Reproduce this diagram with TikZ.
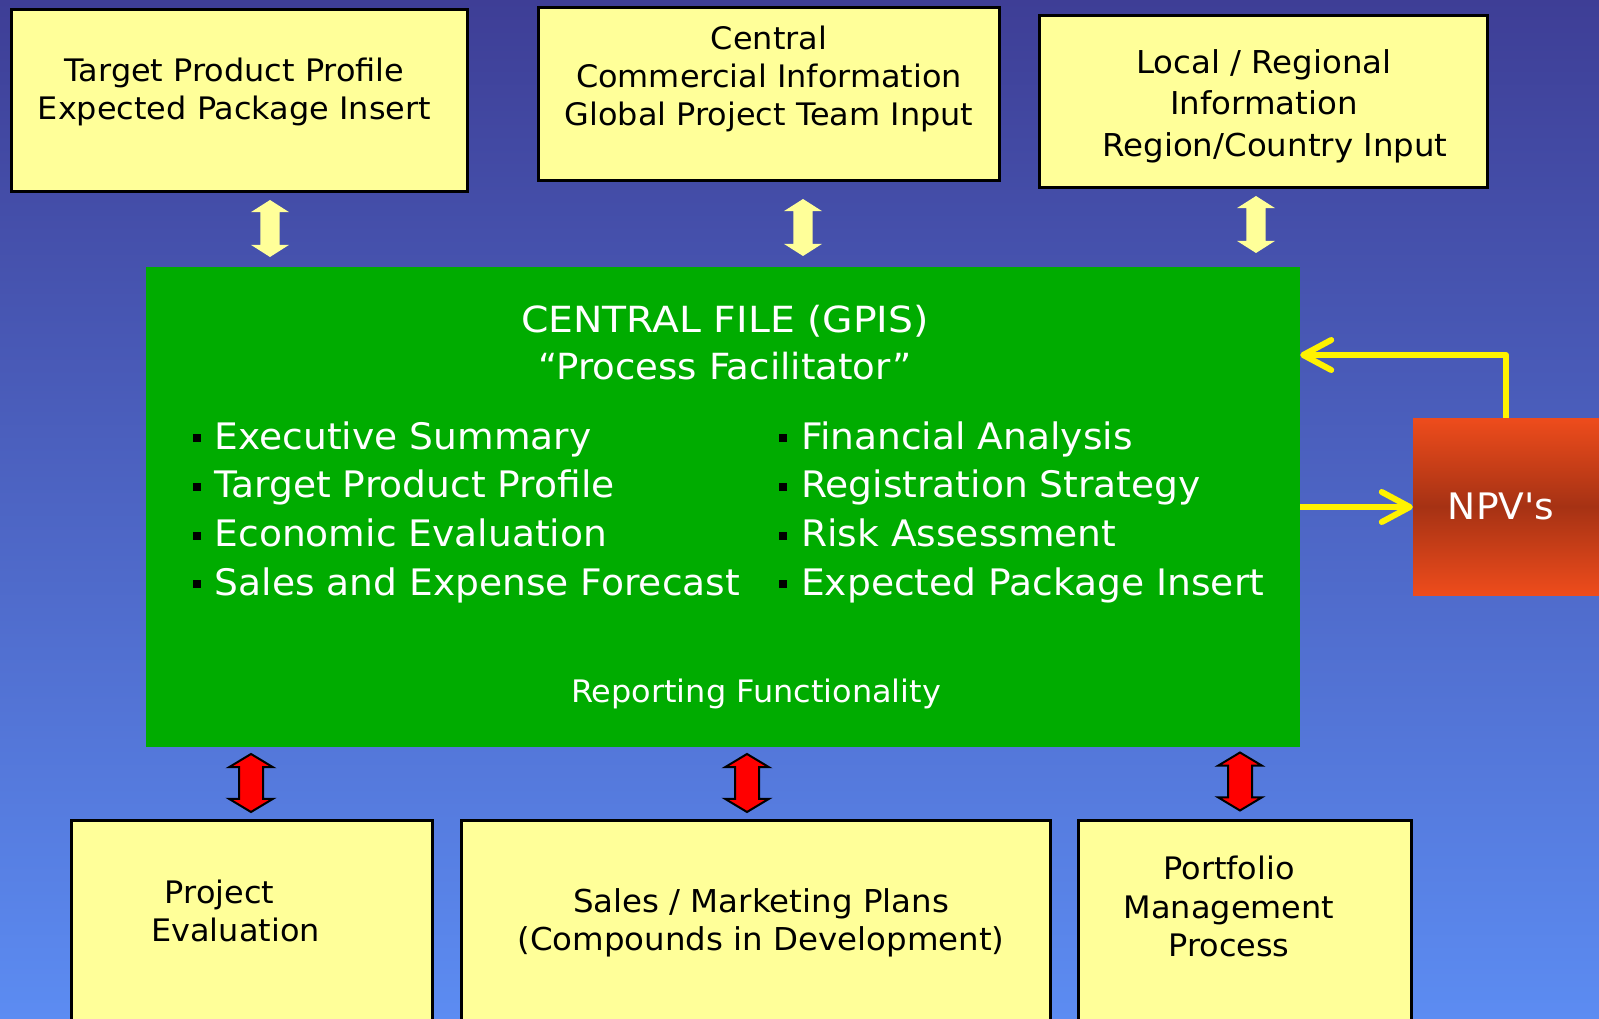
\documentclass[tikz,border=0pt]{standalone}
\usepackage{fontspec}
\setmainfont[FakeStretch=1.03]{DejaVu Sans}
\usetikzlibrary{positioning,shapes.arrows,arrows.meta}

\definecolor{bgtop}{RGB}{62,62,150}
\definecolor{bgbot}{RGB}{92,140,242}
\definecolor{notepad}{RGB}{255,255,153}
\definecolor{gpisgreen}{RGB}{0,172,0}
\definecolor{npvorange}{RGB}{238,76,28}
\definecolor{npvbrown}{RGB}{166,50,20}

\newcommand{\sqbullet}{\textcolor{black}{\rule[7pt]{8pt}{8pt}}\hspace{14pt}}

\begin{document}
\begin{tikzpicture}[x=1pt, y=-1pt,
  inbox/.style={draw=black, line width=3pt, fill=notepad, inner sep=0pt},
  boxtext/.style={align=center, inner sep=0pt, text=black, font=\fontsize{31}{38}\selectfont},
  gpis/.style={fill=gpisgreen, inner sep=0pt},
  gpistitle/.style={align=center, inner sep=0pt, text=white, font=\fontsize{36}{47}\selectfont},
  bulletitem/.style={anchor=base west, inner sep=0pt, text=white, font=\fontsize{36.5}{43}\selectfont},
  uplink/.style={double arrow, fill=notepad, inner xsep=0pt, inner ysep=9.5pt, rotate=90,
    minimum height=57pt, minimum width=38pt,
    double arrow head extend=9.5pt, double arrow tip angle=115},
  downlink/.style={double arrow, fill=red, draw=black, line width=2pt, inner xsep=0pt, inner ysep=11pt, rotate=90,
    minimum height=58pt, minimum width=42pt,
    double arrow head extend=10pt, double arrow tip angle=118},
  npvflow/.style={draw=yellow, line width=6pt, line join=round,
    -{Straight Barb[length=28pt,width=30pt,round]}}
]
  \useasboundingbox (0,0) rectangle (1599,1019);
  \clip (0,0) rectangle (1599,1019);
  \shade[top color=bgtop, bottom color=bgbot] (0,0) rectangle (1599,1019);

  % input boxes
  \node[inbox, minimum width=456pt, minimum height=182pt] (tpp) at (239.5,100.5) {};
  \node[inbox, minimum width=461pt, minimum height=173pt] (cci) at (769,94) {};
  \node[inbox, minimum width=448pt, minimum height=172pt] (lri) at (1263.5,101.5) {};
  \node[boxtext] (tpptext) at (234.5,92.4) {Target Product Profile\\Expected Package Insert};
  \node[boxtext] (ccitext) at (769,78.9) {Central\\Commercial Information\\Global Project Team Input};
  \node[boxtext, font=\fontsize{31.5}{41.5}\selectfont] (lritext) at (1264,105.9)
    {Local / Regional\\Information\\\hspace*{22pt}Region/Country Input};

  % central file
  \node[gpis, minimum width=1154.4pt, minimum height=480pt] (main) at (722.8,507) {};
  \node[gpistitle] (title) at (725,342.8)
    {\scalebox{1.06}[1]{CENTRAL FILE (GPIS)}\\``Process Facilitator''};
  \node[bulletitem] (es) at (192.5,449) {\sqbullet Executive Summary};
  \node[bulletitem] (tp) at (192.5,497.5) {\sqbullet Target Product Profile};
  \node[bulletitem] (ee) at (192.5,546.5) {\sqbullet Economic Evaluation};
  \node[bulletitem] (sf) at (192.5,595) {\sqbullet Sales and Expense Forecast};
  \node[bulletitem] (fa) at (779,449) {\sqbullet Financial Analysis};
  \node[bulletitem] (rs) at (779,497.5) {\sqbullet Registration Strategy};
  \node[bulletitem] (ra) at (779,546.5) {\sqbullet Risk Assessment};
  \node[bulletitem] (ep) at (779,595) {\sqbullet Expected Package Insert};
  \node[gpistitle, anchor=base, font=\fontsize{31}{38}\selectfont] (report) at (756,702) {Reporting Functionality};

  % NPV box
  \node[inner sep=0pt, minimum width=186pt, minimum height=177pt,
    top color=npvorange, bottom color=npvorange, middle color=npvbrown,
    text=white, font=\fontsize{36.5}{43}\selectfont] (npv) at (1506,506.5) {NPV\textquotesingle s\hspace*{10pt}};

  % output boxes
  \node[inbox, minimum width=360.5pt, minimum height=218pt] (peval) at (251.75,929.5) {};
  \node[inbox, minimum width=589.5pt, minimum height=218pt] (smp) at (755.75,929.5) {};
  \node[inbox, minimum width=333pt, minimum height=218pt] (pmp) at (1245,929.5) {};
  \node[boxtext] (pevaltext) at (235.5,910.7) {Project\hspace*{32pt}\\Evaluation};
  \node[boxtext, font=\fontsize{31.5}{38}\selectfont] (smptext) at (761,922.9)
    {Sales / Marketing Plans\\(Compounds in Development)};
  \node[boxtext, font=\fontsize{31}{38.5}\selectfont] (pmptext) at (1229,906.7) {Portfolio\\Management\\Process};

  % links
  \node[uplink] (u1) at (270,228.5) {};
  \node[uplink] (u2) at (803,227.5) {};
  \node[uplink] (u3) at (1256,224.5) {};
  \node[downlink] (d1) at (251,783) {};
  \node[downlink] (d2) at (747,783) {};
  \node[downlink] (d3) at (1240,781.5) {};

  \draw[npvflow] (npv.north) |- ([yshift=152pt]main.east);
  \draw[npvflow] (main.east) -- (main.east -| npv.west);
\end{tikzpicture}
\end{document}
